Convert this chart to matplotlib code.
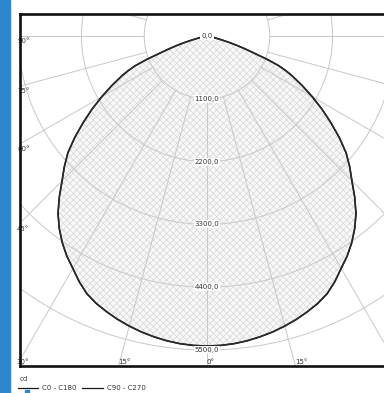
import numpy as np
import matplotlib
matplotlib.use("Agg")
import matplotlib.pyplot as plt
from matplotlib.patches import Polygon, Circle, Rectangle
from matplotlib.lines import Line2D

# Luminous intensity distribution (cd) against gamma angle from nadir
gamma_deg = [0, 2.5, 5, 7.5, 10, 12.5, 15, 17.5, 20, 22.5, 25, 27.5, 30, 32.5, 35, 37.5,
             40, 42.5, 45, 47.5, 50, 52.5, 55, 57.5, 60, 62.5, 65, 66.25, 67.5, 68.75, 70,
             71.25, 72.5, 73.75, 75, 77.5, 80, 82.5, 85, 87.5, 90]
c0_c180 = [5430, 5425, 5410, 5385, 5350, 5310, 5260, 5205, 5140, 5070, 4980, 4850, 4700,
           4570, 4420, 4250, 4060, 3830, 3590, 3390, 3180, 2920, 2650, 2390, 2130, 1880,
           1640, 1510, 1360, 1140, 880, 710, 560, 420, 280, 120, 45, 15, 0, 0, 0]
c90_c270 = [5430, 5425, 5410, 5385, 5350, 5310, 5260, 5205, 5140, 5070, 4980, 4850, 4700,
            4570, 4420, 4250, 4060, 3830, 3590, 3390, 3180, 2920, 2650, 2390, 2130, 1880,
            1640, 1510, 1360, 1140, 880, 710, 560, 420, 280, 120, 45, 15, 0, 0, 0]

ring_values = [0, 1100, 2200, 3300, 4400, 5500]
ring_labels = ["0,0", "1100,0", "2200,0", "3300,0", "4400,0", "5500,0"]
grid_rings = [1100, 2200, 3300, 4400, 5500, 6600, 7700]
left_angle_labels = [90, 75, 60, 45]
bottom_angle_labels = [-30, -15, 0, 15]
legend_labels = ["C0 - C180", "C90 - C270"]
unit_label = "cd"

plt.rcParams["hatch.linewidth"] = 0.45

W, H = 384, 393
fig = plt.figure(figsize=(W / 100, H / 100), dpi=100)
fig.patch.set_facecolor("white")

# pixel geometry of the diagram frame
cx, cy = 207.0, 36.0
px = 1100 / 62.8            # cd per pixel
fl, fr, ft, fb = 19.5, 400.0, 13.5, 366.0

ax = fig.add_axes([fl / W, (H - fb) / H, (fr - fl) / W, (fb - ft) / H])
ax.set_xlim((fl - cx) * px, (fr - cx) * px)
ax.set_ylim(-(fb - cy) * px, (cy - ft) * px)
ax.set_xticks([])
ax.set_yticks([])
for s in ax.spines.values():
    s.set_linewidth(1.9)
    s.set_color("#111111")
    s.set_zorder(6)

grid_col = "#c8c8c8"
# concentric intensity rings
for r in grid_rings:
    ax.add_patch(Circle((0, 0), r, fill=False, ec=grid_col, lw=0.7, zorder=1))
# radial gamma lines, starting from the first ring
for k in range(0, 13):
    a = np.radians(k * 15)
    for sgn in (1, -1):
        x0, y0 = sgn * 1100 * np.sin(a), -1100 * np.cos(a)
        x1, y1 = sgn * 9000 * np.sin(a), -9000 * np.cos(a)
        ax.add_line(Line2D([x0, x1], [y0, y1], color=grid_col, lw=0.7, zorder=1))


def outline(values):
    g = np.radians(np.array(gamma_deg, dtype=float))
    v = np.array(values, dtype=float)
    xs_r, ys_r = v * np.sin(g), -v * np.cos(g)
    xs = np.concatenate([-xs_r[::-1], xs_r[1:]])
    ys = np.concatenate([ys_r[::-1], ys_r[1:]])
    return xs, ys


xs, ys = outline(c0_c180)
ax.add_patch(Polygon(np.column_stack([xs, ys]), closed=True, facecolor="#f8f8f8",
                     edgecolor="#d4d4d4", hatch="xxxxx", lw=0, zorder=0.5))
ax.plot(xs, ys, color="#1a1a1a", lw=1.2, zorder=3, solid_joinstyle="round")
xs2, ys2 = outline(c90_c270)
ax.plot(xs2, ys2, color="#2a2a2a", lw=1.0, zorder=3, solid_joinstyle="round")

# intensity labels along the nadir line
for r, lab in zip(ring_values, ring_labels):
    ax.text(0, -r, lab, ha="center", va="center", fontsize=5, color="#333333",
            zorder=5, bbox=dict(boxstyle="square,pad=0.15", fc="white", ec="none"))

# gamma labels where the radial lines meet the frame
xl = (fl - cx) * px
for ang in left_angle_labels:
    a = np.radians(ang)
    y = xl * np.cos(a) / np.sin(a)
    ax.text((17 - cx) * px, y - 2.0 * px, f"{ang}°", ha="left", va="top",
            fontsize=5, color="#333333", zorder=4)
yb = -(fb - cy) * px
for ang in bottom_angle_labels:
    a = np.radians(ang)
    x = -yb * np.tan(a)
    ax.text(x, yb + 1.0 * px, f"{abs(ang)}°", ha="left", va="bottom",
            fontsize=5, color="#333333", zorder=4)

# side bar
fig.add_artist(Rectangle((0, 0), 10 / W, 1, transform=fig.transFigure,
                         color="#2c87cc", zorder=0))
fig.add_artist(Rectangle((25 / W, 0), 4 / W, 3 / H, transform=fig.transFigure,
                         color="#2c87cc", zorder=0))

# unit and legend below the frame
fig.text(20 / W, 1 - 379 / H, unit_label, ha="left", va="center", fontsize=5, color="#333333")
leg_x = [(18, 38, 42), (82, 103, 107)]
for (x0, x1, xt), lab in zip(leg_x, legend_labels):
    fig.add_artist(Line2D([x0 / W, x1 / W], [1 - 388 / H] * 2, transform=fig.transFigure,
                          color="#1a1a1a", lw=0.9))
    fig.text(xt / W, 1 - 388 / H, lab, ha="left", va="center", fontsize=5, color="#333333")

fig.savefig("out.png", dpi=100)
